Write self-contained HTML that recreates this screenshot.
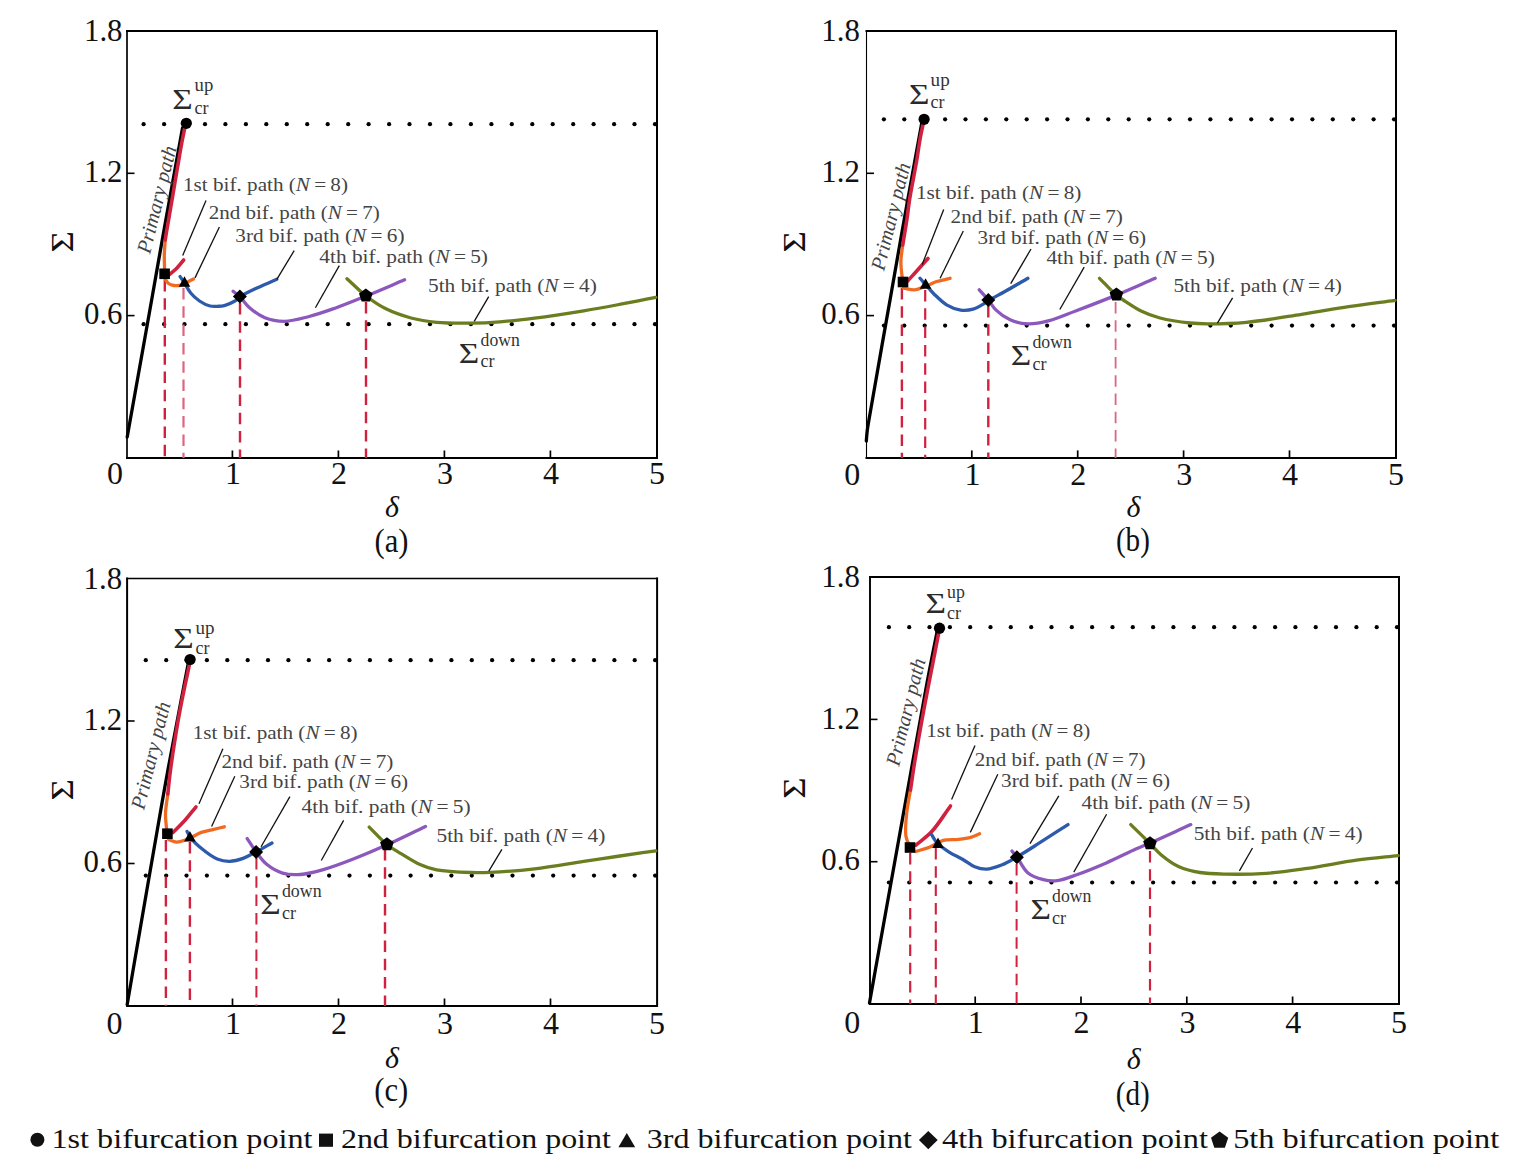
<!DOCTYPE html><html><head><meta charset="utf-8"><style>html,body{margin:0;padding:0;background:#fff;overflow:hidden}svg{display:block;font-family:"Liberation Serif",serif}</style></head><body>
<svg width="1527" height="1171" viewBox="0 0 1527 1171">
<rect width="1527" height="1171" fill="#fff"/>
<g stroke="#000" stroke-linecap="square">
<line x1="127.0" y1="30.9" x2="127.0" y2="458.0" stroke-width="1.7"/>
<line x1="127.0" y1="30.9" x2="657.0" y2="30.9" stroke-width="2.0"/>
<line x1="657.0" y1="30.9" x2="657.0" y2="458.0" stroke-width="2.0"/>
<line x1="127.0" y1="458.0" x2="657.0" y2="458.0" stroke-width="2.0"/>
</g>
<line x1="232.4" y1="458.0" x2="232.4" y2="450.5" stroke="#000" stroke-width="1.7" />
<line x1="338.4" y1="458.0" x2="338.4" y2="450.5" stroke="#000" stroke-width="1.7" />
<line x1="444.4" y1="458.0" x2="444.4" y2="450.5" stroke="#000" stroke-width="1.7" />
<line x1="550.4" y1="458.0" x2="550.4" y2="450.5" stroke="#000" stroke-width="1.7" />
<line x1="127.0" y1="315.6" x2="134.5" y2="315.6" stroke="#000" stroke-width="1.6" />
<line x1="127.0" y1="173.3" x2="134.5" y2="173.3" stroke="#000" stroke-width="1.6" />
<text x="122.5" y="40.9" font-size="32.0" text-anchor="end" fill="#111" textLength="38.5" lengthAdjust="spacingAndGlyphs" class="tly">1.8</text>
<text x="122.5" y="182.3" font-size="32.0" text-anchor="end" fill="#111" textLength="38.5" lengthAdjust="spacingAndGlyphs" class="tly">1.2</text>
<text x="122.5" y="323.7" font-size="32.0" text-anchor="end" fill="#111" textLength="38.5" lengthAdjust="spacingAndGlyphs" class="tly">0.6</text>
<text x="115.0" y="484.2" font-size="32.0" text-anchor="middle" fill="#111" class="tlx">0</text>
<text x="233.0" y="484.2" font-size="32.0" text-anchor="middle" fill="#111" class="tlx">1</text>
<text x="339.0" y="484.2" font-size="32.0" text-anchor="middle" fill="#111" class="tlx">2</text>
<text x="445.0" y="484.2" font-size="32.0" text-anchor="middle" fill="#111" class="tlx">3</text>
<text x="551.0" y="484.2" font-size="32.0" text-anchor="middle" fill="#111" class="tlx">4</text>
<text x="657.0" y="484.2" font-size="32.0" text-anchor="middle" fill="#111" class="tlx">5</text>
<text class="dl" x="392.0" y="517.0" font-size="30" font-style="italic" text-anchor="middle" fill="#111">δ</text>
<text x="391.5" y="552.4" font-size="34.0" text-anchor="middle" fill="#111" textLength="34.0" lengthAdjust="spacingAndGlyphs" class="pn">(a)</text>
<text class="sa" x="0" y="0" font-size="32" text-anchor="middle" fill="#111" transform="translate(73.0 241.9) rotate(-90) scale(1.15 1)">Σ</text>
<g fill="#000"><circle cx="143.6" cy="124.2" r="2.1"/><circle cx="164.1" cy="124.2" r="2.1"/><circle cx="184.5" cy="124.2" r="2.1"/><circle cx="205.0" cy="124.2" r="2.1"/><circle cx="225.4" cy="124.2" r="2.1"/><circle cx="245.9" cy="124.2" r="2.1"/><circle cx="266.3" cy="124.2" r="2.1"/><circle cx="286.8" cy="124.2" r="2.1"/><circle cx="307.2" cy="124.2" r="2.1"/><circle cx="327.7" cy="124.2" r="2.1"/><circle cx="348.2" cy="124.2" r="2.1"/><circle cx="368.6" cy="124.2" r="2.1"/><circle cx="389.1" cy="124.2" r="2.1"/><circle cx="409.5" cy="124.2" r="2.1"/><circle cx="430.0" cy="124.2" r="2.1"/><circle cx="450.4" cy="124.2" r="2.1"/><circle cx="470.9" cy="124.2" r="2.1"/><circle cx="491.4" cy="124.2" r="2.1"/><circle cx="511.8" cy="124.2" r="2.1"/><circle cx="532.3" cy="124.2" r="2.1"/><circle cx="552.7" cy="124.2" r="2.1"/><circle cx="573.2" cy="124.2" r="2.1"/><circle cx="593.6" cy="124.2" r="2.1"/><circle cx="614.1" cy="124.2" r="2.1"/><circle cx="634.5" cy="124.2" r="2.1"/><circle cx="655.0" cy="124.2" r="2.1"/></g>
<g fill="#000"><circle cx="143.6" cy="324.2" r="2.1"/><circle cx="164.1" cy="324.2" r="2.1"/><circle cx="184.5" cy="324.2" r="2.1"/><circle cx="205.0" cy="324.2" r="2.1"/><circle cx="225.4" cy="324.2" r="2.1"/><circle cx="245.9" cy="324.2" r="2.1"/><circle cx="266.3" cy="324.2" r="2.1"/><circle cx="286.8" cy="324.2" r="2.1"/><circle cx="307.2" cy="324.2" r="2.1"/><circle cx="327.7" cy="324.2" r="2.1"/><circle cx="348.2" cy="324.2" r="2.1"/><circle cx="368.6" cy="324.2" r="2.1"/><circle cx="389.1" cy="324.2" r="2.1"/><circle cx="409.5" cy="324.2" r="2.1"/><circle cx="430.0" cy="324.2" r="2.1"/><circle cx="450.4" cy="324.2" r="2.1"/><circle cx="470.9" cy="324.2" r="2.1"/><circle cx="491.4" cy="324.2" r="2.1"/><circle cx="511.8" cy="324.2" r="2.1"/><circle cx="532.3" cy="324.2" r="2.1"/><circle cx="552.7" cy="324.2" r="2.1"/><circle cx="573.2" cy="324.2" r="2.1"/><circle cx="593.6" cy="324.2" r="2.1"/><circle cx="614.1" cy="324.2" r="2.1"/><circle cx="634.5" cy="324.2" r="2.1"/><circle cx="655.0" cy="324.2" r="2.1"/></g>
<line x1="164.8" y1="280.0" x2="164.8" y2="458.0" stroke="#d0213f" stroke-width="2.4" stroke-dasharray="11.5 6.8"/>
<line x1="183.5" y1="288.0" x2="183.5" y2="458.0" stroke="#dc6582" stroke-width="2.2" stroke-dasharray="11.5 6.8"/>
<line x1="240.0" y1="303.0" x2="240.0" y2="458.0" stroke="#d0213f" stroke-width="2.4" stroke-dasharray="11.5 6.8"/>
<line x1="366.0" y1="302.0" x2="366.0" y2="458.0" stroke="#d0213f" stroke-width="2.4" stroke-dasharray="11.5 6.8"/>
<path d="M127.2 437.0 C130.0 421.3 132.3 408.3 135.6 390.0 C140.1 364.4 146.9 326.9 152.0 298.0 C156.6 272.3 160.2 251.1 164.9 225.0 C170.3 195.0 176.6 160.3 182.5 128.0" fill="none" stroke="#000" stroke-width="3.3" stroke-linecap="round" stroke-linejoin="round"/>
<path d="M164.6 269.0 C164.5 264.3 164.2 259.7 164.3 255.0 C164.4 250.1 164.9 245.0 165.2 240.0" fill="none" stroke="#f06a22" stroke-width="3.3" stroke-linecap="round" stroke-linejoin="round"/>
<path d="M165.2 240.0 C166.0 235.0 166.7 230.6 167.7 225.0 C168.9 217.7 170.4 209.3 172.0 200.0 C174.0 188.2 176.8 171.0 178.8 160.0 C180.1 152.2 181.1 146.3 182.3 140.0 C183.4 134.4 184.5 129.3 185.6 124.0" fill="none" stroke="#d0213f" stroke-width="3.6" stroke-linecap="round" stroke-linejoin="round"/>
<path d="M169.0 275.0 C171.5 272.8 174.1 270.9 176.5 268.5 C179.0 265.9 181.3 262.8 183.7 260.0" fill="none" stroke="#d0213f" stroke-width="3.6" stroke-linecap="round" stroke-linejoin="round"/>
<path d="M165.0 279.0 C166.2 280.5 167.0 282.4 168.5 283.5 C170.0 284.6 172.0 285.2 174.0 285.5 C176.2 285.8 178.7 285.8 181.0 285.2 C183.4 284.6 185.8 282.9 188.0 281.8 C189.9 280.8 191.7 279.9 193.5 279.0" fill="none" stroke="#f06a22" stroke-width="3.3" stroke-linecap="round" stroke-linejoin="round"/>
<path d="M180.1 276.6 C181.6 278.7 182.9 280.6 184.5 283.0 C186.4 285.9 188.2 290.0 190.7 293.0 C193.2 296.0 196.3 298.8 199.5 301.0 C202.7 303.2 206.8 305.2 210.1 306.0 C212.7 306.6 215.1 306.4 217.5 306.3 C219.8 306.2 221.8 306.2 224.3 305.6 C227.5 304.8 232.1 302.7 234.9 301.0 C237.1 299.7 237.9 298.1 240.2 296.6 C243.8 294.2 249.7 291.4 255.2 288.8 C261.7 285.7 269.6 282.5 276.8 279.3" fill="none" stroke="#2e5aac" stroke-width="3.3" stroke-linecap="round" stroke-linejoin="round"/>
<path d="M233.1 291.3 C235.5 293.2 237.8 294.7 240.2 297.0 C243.1 299.8 245.4 304.0 249.0 307.2 C253.3 311.0 259.1 315.4 264.9 317.8 C270.8 320.2 277.5 321.3 284.4 321.3 C292.2 321.2 300.8 318.6 309.1 316.5 C317.8 314.3 326.5 311.2 335.6 308.0 C345.4 304.5 355.1 300.5 365.7 296.2 C377.9 291.3 391.6 285.3 404.6 279.8" fill="none" stroke="#8c58bd" stroke-width="3.3" stroke-linecap="round" stroke-linejoin="round"/>
<path d="M347.0 278.7 C353.3 284.4 359.3 290.7 365.8 295.8 C372.1 300.7 378.2 305.0 385.4 308.6 C393.2 312.5 402.4 315.7 411.0 318.0 C419.4 320.2 427.4 321.4 436.6 322.3 C447.1 323.3 459.9 323.2 470.8 323.1 C480.9 323.0 489.9 322.6 500.0 321.8 C511.1 321.0 522.1 319.7 534.6 318.1 C549.6 316.2 569.0 313.2 583.7 310.8 C595.7 308.8 605.1 307.1 616.5 305.0 C629.0 302.7 642.7 299.9 655.8 297.3" fill="none" stroke="#6a7d1f" stroke-width="3.3" stroke-linecap="round" stroke-linejoin="round"/>
<line x1="182.7" y1="255.4" x2="206.0" y2="200.4" stroke="#111" stroke-width="1.3" />
<line x1="195.0" y1="277.9" x2="219.4" y2="227.0" stroke="#111" stroke-width="1.3" />
<line x1="276.8" y1="279.3" x2="294.2" y2="250.6" stroke="#111" stroke-width="1.3" />
<line x1="315.4" y1="307.7" x2="339.3" y2="265.6" stroke="#111" stroke-width="1.3" />
<line x1="474.2" y1="321.4" x2="488.7" y2="296.6" stroke="#111" stroke-width="1.3" />
<circle cx="186.3" cy="123.3" r="5.6" fill="#000"/>
<rect x="159.3" y="268.5" width="10.6" height="10.6" fill="#000"/>
<polygon points="184.5,276.3 178.7,286.7 190.3,286.7" fill="#000"/>
<polygon points="239.9,289.5 246.9,296.5 239.9,303.5 232.9,296.5" fill="#000"/>
<polygon points="365.8,288.6 372.6,293.6 370.0,301.6 361.6,301.6 359.0,293.6" fill="#000"/>
<text class="ann" x="183.0" y="191.0" font-size="19.5" fill="#444444" textLength="165.0" lengthAdjust="spacingAndGlyphs">1st bif. path (<tspan font-style="italic">N</tspan> = 8)</text>
<text class="ann" x="208.7" y="218.5" font-size="19.5" fill="#444444" textLength="171.0" lengthAdjust="spacingAndGlyphs">2nd bif. path (<tspan font-style="italic">N</tspan> = 7)</text>
<text class="ann" x="235.3" y="241.5" font-size="19.5" fill="#444444" textLength="169.2" lengthAdjust="spacingAndGlyphs">3rd bif. path (<tspan font-style="italic">N</tspan> = 6)</text>
<text class="ann" x="319.3" y="262.5" font-size="19.5" fill="#444444" textLength="168.7" lengthAdjust="spacingAndGlyphs">4th bif. path (<tspan font-style="italic">N</tspan> = 5)</text>
<text class="ann" x="428.0" y="291.9" font-size="19.5" fill="#444444" textLength="168.9" lengthAdjust="spacingAndGlyphs">5th bif. path (<tspan font-style="italic">N</tspan> = 4)</text>
<text x="150.0" y="254.5" font-size="20.5" font-style="italic" fill="#444444" textLength="110.0" lengthAdjust="spacingAndGlyphs" class="prim" transform="rotate(-76.0 150.0 254.5)">Primary path</text>
<text class="sig" x="172.3" y="108.9" font-size="29.5" fill="#2a2a2a" textLength="20.5" lengthAdjust="spacingAndGlyphs">Σ</text>
<text class="sup" x="194.6" y="90.5" font-size="19" fill="#333" textLength="18.7" lengthAdjust="spacingAndGlyphs">up</text>
<text class="sub" x="194.6" y="113.5" font-size="19" fill="#333" textLength="14.0" lengthAdjust="spacingAndGlyphs">cr</text>
<text class="sig" x="458.8" y="363.1" font-size="29.5" fill="#2a2a2a" textLength="20.5" lengthAdjust="spacingAndGlyphs">Σ</text>
<text class="sup" x="480.6" y="346.0" font-size="19" fill="#333" textLength="39.3" lengthAdjust="spacingAndGlyphs">down</text>
<text class="sub" x="480.6" y="367.2" font-size="19" fill="#333" textLength="14.0" lengthAdjust="spacingAndGlyphs">cr</text>
<g stroke="#000" stroke-linecap="square">
<line x1="866.5" y1="31.0" x2="866.5" y2="457.9" stroke-width="1.1"/>
<line x1="866.5" y1="31.0" x2="1396.0" y2="31.0" stroke-width="2.0"/>
<line x1="1396.0" y1="31.0" x2="1396.0" y2="457.9" stroke-width="2.0"/>
<line x1="866.5" y1="457.9" x2="1396.0" y2="457.9" stroke-width="2.0"/>
</g>
<line x1="971.8" y1="457.9" x2="971.8" y2="450.4" stroke="#000" stroke-width="1.7" />
<line x1="1077.7" y1="457.9" x2="1077.7" y2="450.4" stroke="#000" stroke-width="1.7" />
<line x1="1183.6" y1="457.9" x2="1183.6" y2="450.4" stroke="#000" stroke-width="1.7" />
<line x1="1289.5" y1="457.9" x2="1289.5" y2="450.4" stroke="#000" stroke-width="1.7" />
<line x1="866.5" y1="315.6" x2="874.0" y2="315.6" stroke="#000" stroke-width="1.6" />
<line x1="866.5" y1="173.3" x2="874.0" y2="173.3" stroke="#000" stroke-width="1.6" />
<text x="859.8" y="41.0" font-size="32.0" text-anchor="end" fill="#111" textLength="38.5" lengthAdjust="spacingAndGlyphs" class="tly">1.8</text>
<text x="859.8" y="182.4" font-size="32.0" text-anchor="end" fill="#111" textLength="38.5" lengthAdjust="spacingAndGlyphs" class="tly">1.2</text>
<text x="859.8" y="323.7" font-size="32.0" text-anchor="end" fill="#111" textLength="38.5" lengthAdjust="spacingAndGlyphs" class="tly">0.6</text>
<text x="852.2" y="484.5" font-size="32.0" text-anchor="middle" fill="#111" class="tlx">0</text>
<text x="972.4" y="484.5" font-size="32.0" text-anchor="middle" fill="#111" class="tlx">1</text>
<text x="1078.3" y="484.5" font-size="32.0" text-anchor="middle" fill="#111" class="tlx">2</text>
<text x="1184.2" y="484.5" font-size="32.0" text-anchor="middle" fill="#111" class="tlx">3</text>
<text x="1290.1" y="484.5" font-size="32.0" text-anchor="middle" fill="#111" class="tlx">4</text>
<text x="1396.0" y="484.5" font-size="32.0" text-anchor="middle" fill="#111" class="tlx">5</text>
<text class="dl" x="1133.5" y="517.0" font-size="30" font-style="italic" text-anchor="middle" fill="#111">δ</text>
<text x="1132.9" y="550.5" font-size="34.0" text-anchor="middle" fill="#111" textLength="34.0" lengthAdjust="spacingAndGlyphs" class="pn">(b)</text>
<text class="sa" x="0" y="0" font-size="32" text-anchor="middle" fill="#111" transform="translate(805.0 241.9) rotate(-90) scale(1.15 1)">Σ</text>
<g fill="#000"><circle cx="883.9" cy="119.3" r="2.1"/><circle cx="904.3" cy="119.3" r="2.1"/><circle cx="924.7" cy="119.3" r="2.1"/><circle cx="945.1" cy="119.3" r="2.1"/><circle cx="965.5" cy="119.3" r="2.1"/><circle cx="985.9" cy="119.3" r="2.1"/><circle cx="1006.3" cy="119.3" r="2.1"/><circle cx="1026.7" cy="119.3" r="2.1"/><circle cx="1047.1" cy="119.3" r="2.1"/><circle cx="1067.5" cy="119.3" r="2.1"/><circle cx="1087.9" cy="119.3" r="2.1"/><circle cx="1108.3" cy="119.3" r="2.1"/><circle cx="1128.7" cy="119.3" r="2.1"/><circle cx="1149.2" cy="119.3" r="2.1"/><circle cx="1169.6" cy="119.3" r="2.1"/><circle cx="1190.0" cy="119.3" r="2.1"/><circle cx="1210.4" cy="119.3" r="2.1"/><circle cx="1230.8" cy="119.3" r="2.1"/><circle cx="1251.2" cy="119.3" r="2.1"/><circle cx="1271.6" cy="119.3" r="2.1"/><circle cx="1292.0" cy="119.3" r="2.1"/><circle cx="1312.4" cy="119.3" r="2.1"/><circle cx="1332.8" cy="119.3" r="2.1"/><circle cx="1353.2" cy="119.3" r="2.1"/><circle cx="1373.6" cy="119.3" r="2.1"/><circle cx="1394.0" cy="119.3" r="2.1"/></g>
<g fill="#000"><circle cx="883.9" cy="325.6" r="2.1"/><circle cx="904.3" cy="325.6" r="2.1"/><circle cx="924.7" cy="325.6" r="2.1"/><circle cx="945.1" cy="325.6" r="2.1"/><circle cx="965.5" cy="325.6" r="2.1"/><circle cx="985.9" cy="325.6" r="2.1"/><circle cx="1006.3" cy="325.6" r="2.1"/><circle cx="1026.7" cy="325.6" r="2.1"/><circle cx="1047.1" cy="325.6" r="2.1"/><circle cx="1067.5" cy="325.6" r="2.1"/><circle cx="1087.9" cy="325.6" r="2.1"/><circle cx="1108.3" cy="325.6" r="2.1"/><circle cx="1128.7" cy="325.6" r="2.1"/><circle cx="1149.2" cy="325.6" r="2.1"/><circle cx="1169.6" cy="325.6" r="2.1"/><circle cx="1190.0" cy="325.6" r="2.1"/><circle cx="1210.4" cy="325.6" r="2.1"/><circle cx="1230.8" cy="325.6" r="2.1"/><circle cx="1251.2" cy="325.6" r="2.1"/><circle cx="1271.6" cy="325.6" r="2.1"/><circle cx="1292.0" cy="325.6" r="2.1"/><circle cx="1312.4" cy="325.6" r="2.1"/><circle cx="1332.8" cy="325.6" r="2.1"/><circle cx="1353.2" cy="325.6" r="2.1"/><circle cx="1373.6" cy="325.6" r="2.1"/><circle cx="1394.0" cy="325.6" r="2.1"/></g>
<line x1="901.9" y1="288.0" x2="901.9" y2="457.9" stroke="#d0213f" stroke-width="2.4" stroke-dasharray="11.5 6.8"/>
<line x1="925.2" y1="290.0" x2="925.2" y2="457.9" stroke="#d0213f" stroke-width="2.2" stroke-dasharray="11.5 6.8"/>
<line x1="988.3" y1="306.0" x2="988.3" y2="457.9" stroke="#d0213f" stroke-width="2.4" stroke-dasharray="11.5 6.8"/>
<line x1="1115.6" y1="302.0" x2="1115.6" y2="457.9" stroke="#dc6582" stroke-width="1.8" stroke-dasharray="11.5 6.8"/>
<path d="M866.3 441.0 C866.6 437.7 866.8 434.5 867.2 431.0 C867.7 427.1 868.1 424.8 869.2 418.5 C872.6 398.1 885.0 328.4 891.8 290.0 C897.3 258.7 901.7 233.3 906.8 205.0 C911.9 176.7 917.1 148.3 922.3 120.0" fill="none" stroke="#000" stroke-width="3.3" stroke-linecap="round" stroke-linejoin="round"/>
<path d="M902.6 281.0 C902.0 274.7 900.8 268.2 900.9 262.0 C900.9 256.2 902.1 250.7 902.7 245.0" fill="none" stroke="#f06a22" stroke-width="3.3" stroke-linecap="round" stroke-linejoin="round"/>
<path d="M902.7 245.0 C904.1 236.7 905.6 227.9 906.8 220.0 C907.9 213.0 908.3 207.8 909.5 200.0 C911.3 188.9 914.9 171.1 916.8 160.0 C918.1 152.2 918.7 146.7 919.9 140.0 C921.1 133.1 922.7 126.2 924.1 119.3" fill="none" stroke="#d0213f" stroke-width="3.6" stroke-linecap="round" stroke-linejoin="round"/>
<path d="M907.7 281.0 C910.6 277.7 913.4 274.7 916.5 271.2 C920.1 267.2 924.2 262.7 928.0 258.5" fill="none" stroke="#d0213f" stroke-width="3.6" stroke-linecap="round" stroke-linejoin="round"/>
<path d="M903.3 288.0 C907.1 288.6 911.1 290.1 914.8 289.8 C918.4 289.5 921.9 287.5 925.4 286.2 C929.0 284.9 932.2 283.1 936.0 281.8 C940.3 280.4 945.4 279.5 950.1 278.3" fill="none" stroke="#f06a22" stroke-width="3.3" stroke-linecap="round" stroke-linejoin="round"/>
<path d="M920.0 278.3 C921.8 280.4 923.4 282.2 925.4 284.5 C928.0 287.4 930.9 291.0 934.2 294.2 C937.9 297.8 942.1 302.1 946.6 304.8 C950.9 307.4 956.1 309.4 960.7 310.1 C964.9 310.7 969.2 310.3 973.1 309.2 C976.9 308.2 980.9 305.6 983.7 303.9 C985.7 302.7 986.5 301.8 988.7 300.4 C992.5 298.0 999.0 294.8 1004.9 291.5 C1011.9 287.6 1020.2 282.7 1027.9 278.3" fill="none" stroke="#2e5aac" stroke-width="3.3" stroke-linecap="round" stroke-linejoin="round"/>
<path d="M979.3 289.8 C982.4 293.3 985.8 296.9 988.7 300.4 C991.4 303.7 992.9 307.1 996.1 310.1 C999.8 313.7 1005.0 317.5 1010.2 319.8 C1015.6 322.2 1021.7 323.7 1027.9 323.9 C1034.6 324.2 1041.7 322.6 1049.1 320.7 C1057.5 318.5 1065.8 314.7 1075.6 311.0 C1087.7 306.4 1102.9 300.6 1116.3 295.1 C1129.5 289.7 1142.2 283.9 1155.2 278.3" fill="none" stroke="#8c58bd" stroke-width="3.3" stroke-linecap="round" stroke-linejoin="round"/>
<path d="M1099.5 278.3 C1105.1 283.9 1111.4 291.0 1116.3 295.1 C1119.6 297.9 1121.8 299.1 1125.2 301.3 C1129.7 304.2 1135.4 308.3 1141.1 311.0 C1147.0 313.9 1152.9 316.1 1160.0 318.0 C1168.8 320.3 1181.5 322.1 1190.2 323.0 C1196.7 323.7 1200.4 323.8 1207.2 323.8 C1217.6 323.8 1232.3 323.6 1246.4 322.3 C1263.2 320.8 1283.9 317.1 1301.5 314.4 C1317.8 311.9 1332.9 309.0 1348.6 306.6 C1364.1 304.3 1379.5 302.4 1395.0 300.3" fill="none" stroke="#6a7d1f" stroke-width="3.3" stroke-linecap="round" stroke-linejoin="round"/>
<line x1="922.2" y1="264.5" x2="943.7" y2="209.5" stroke="#111" stroke-width="1.3" />
<line x1="940.1" y1="278.2" x2="963.3" y2="231.0" stroke="#111" stroke-width="1.3" />
<line x1="1010.7" y1="283.7" x2="1031.0" y2="249.0" stroke="#111" stroke-width="1.3" />
<line x1="1059.8" y1="309.5" x2="1084.2" y2="267.1" stroke="#111" stroke-width="1.3" />
<line x1="1217.4" y1="323.1" x2="1232.6" y2="297.9" stroke="#111" stroke-width="1.3" />
<circle cx="924.1" cy="119.3" r="5.6" fill="#000"/>
<rect x="897.7" y="276.7" width="10.6" height="10.6" fill="#000"/>
<polygon points="925.6,278.3 919.8,288.7 931.4,288.7" fill="#000"/>
<polygon points="988.3,293.1 995.3,300.1 988.3,307.1 981.3,300.1" fill="#000"/>
<polygon points="1116.4,287.6 1123.2,292.6 1120.6,300.6 1112.2,300.6 1109.6,292.6" fill="#000"/>
<text class="ann" x="915.9" y="198.6" font-size="19.5" fill="#444444" textLength="165.5" lengthAdjust="spacingAndGlyphs">1st bif. path (<tspan font-style="italic">N</tspan> = 8)</text>
<text class="ann" x="950.6" y="222.6" font-size="19.5" fill="#444444" textLength="172.2" lengthAdjust="spacingAndGlyphs">2nd bif. path (<tspan font-style="italic">N</tspan> = 7)</text>
<text class="ann" x="977.6" y="243.9" font-size="19.5" fill="#444444" textLength="168.6" lengthAdjust="spacingAndGlyphs">3rd bif. path (<tspan font-style="italic">N</tspan> = 6)</text>
<text class="ann" x="1046.4" y="264.2" font-size="19.5" fill="#444444" textLength="168.4" lengthAdjust="spacingAndGlyphs">4th bif. path (<tspan font-style="italic">N</tspan> = 5)</text>
<text class="ann" x="1173.4" y="291.5" font-size="19.5" fill="#444444" textLength="168.6" lengthAdjust="spacingAndGlyphs">5th bif. path (<tspan font-style="italic">N</tspan> = 4)</text>
<text x="884.0" y="271.5" font-size="20.5" font-style="italic" fill="#444444" textLength="110.0" lengthAdjust="spacingAndGlyphs" class="prim" transform="rotate(-76.0 884.0 271.5)">Primary path</text>
<text class="sig" x="909.0" y="103.8" font-size="29.5" fill="#2a2a2a" textLength="20.5" lengthAdjust="spacingAndGlyphs">Σ</text>
<text class="sup" x="930.6" y="85.5" font-size="19" fill="#333" textLength="19.1" lengthAdjust="spacingAndGlyphs">up</text>
<text class="sub" x="930.6" y="107.8" font-size="19" fill="#333" textLength="14.0" lengthAdjust="spacingAndGlyphs">cr</text>
<text class="sig" x="1010.7" y="365.3" font-size="29.5" fill="#2a2a2a" textLength="20.5" lengthAdjust="spacingAndGlyphs">Σ</text>
<text class="sup" x="1032.4" y="347.7" font-size="19" fill="#333" textLength="39.5" lengthAdjust="spacingAndGlyphs">down</text>
<text class="sub" x="1032.4" y="369.5" font-size="19" fill="#333" textLength="14.0" lengthAdjust="spacingAndGlyphs">cr</text>
<g stroke="#000" stroke-linecap="square">
<line x1="127.1" y1="578.5" x2="127.1" y2="1006.0" stroke-width="2.0"/>
<line x1="127.1" y1="578.5" x2="657.1" y2="578.5" stroke-width="1.4"/>
<line x1="657.1" y1="578.5" x2="657.1" y2="1006.0" stroke-width="2.0"/>
<line x1="127.1" y1="1006.0" x2="657.1" y2="1006.0" stroke-width="1.8"/>
</g>
<line x1="232.5" y1="1006.0" x2="232.5" y2="998.5" stroke="#000" stroke-width="1.7" />
<line x1="338.5" y1="1006.0" x2="338.5" y2="998.5" stroke="#000" stroke-width="1.7" />
<line x1="444.5" y1="1006.0" x2="444.5" y2="998.5" stroke="#000" stroke-width="1.7" />
<line x1="550.5" y1="1006.0" x2="550.5" y2="998.5" stroke="#000" stroke-width="1.7" />
<line x1="127.1" y1="863.5" x2="134.6" y2="863.5" stroke="#000" stroke-width="1.6" />
<line x1="127.1" y1="721.0" x2="134.6" y2="721.0" stroke="#000" stroke-width="1.6" />
<text x="122.1" y="588.5" font-size="32.0" text-anchor="end" fill="#111" textLength="38.5" lengthAdjust="spacingAndGlyphs" class="tly">1.8</text>
<text x="122.1" y="730.0" font-size="32.0" text-anchor="end" fill="#111" textLength="38.5" lengthAdjust="spacingAndGlyphs" class="tly">1.2</text>
<text x="122.1" y="871.6" font-size="32.0" text-anchor="end" fill="#111" textLength="38.5" lengthAdjust="spacingAndGlyphs" class="tly">0.6</text>
<text x="114.5" y="1034.2" font-size="32.0" text-anchor="middle" fill="#111" class="tlx">0</text>
<text x="233.1" y="1034.2" font-size="32.0" text-anchor="middle" fill="#111" class="tlx">1</text>
<text x="339.1" y="1034.2" font-size="32.0" text-anchor="middle" fill="#111" class="tlx">2</text>
<text x="445.1" y="1034.2" font-size="32.0" text-anchor="middle" fill="#111" class="tlx">3</text>
<text x="551.1" y="1034.2" font-size="32.0" text-anchor="middle" fill="#111" class="tlx">4</text>
<text x="657.1" y="1034.2" font-size="32.0" text-anchor="middle" fill="#111" class="tlx">5</text>
<text class="dl" x="392.0" y="1067.7" font-size="30" font-style="italic" text-anchor="middle" fill="#111">δ</text>
<text x="391.3" y="1100.6" font-size="34.0" text-anchor="middle" fill="#111" textLength="34.0" lengthAdjust="spacingAndGlyphs" class="pn">(c)</text>
<text class="sa" x="0" y="0" font-size="32" text-anchor="middle" fill="#111" transform="translate(73.0 789.8) rotate(-90) scale(1.15 1)">Σ</text>
<g fill="#000"><circle cx="145.8" cy="660.2" r="2.1"/><circle cx="166.2" cy="660.2" r="2.1"/><circle cx="186.5" cy="660.2" r="2.1"/><circle cx="206.9" cy="660.2" r="2.1"/><circle cx="227.3" cy="660.2" r="2.1"/><circle cx="247.7" cy="660.2" r="2.1"/><circle cx="268.0" cy="660.2" r="2.1"/><circle cx="288.4" cy="660.2" r="2.1"/><circle cx="308.8" cy="660.2" r="2.1"/><circle cx="329.1" cy="660.2" r="2.1"/><circle cx="349.5" cy="660.2" r="2.1"/><circle cx="369.9" cy="660.2" r="2.1"/><circle cx="390.3" cy="660.2" r="2.1"/><circle cx="410.6" cy="660.2" r="2.1"/><circle cx="431.0" cy="660.2" r="2.1"/><circle cx="451.4" cy="660.2" r="2.1"/><circle cx="471.8" cy="660.2" r="2.1"/><circle cx="492.1" cy="660.2" r="2.1"/><circle cx="512.5" cy="660.2" r="2.1"/><circle cx="532.9" cy="660.2" r="2.1"/><circle cx="553.2" cy="660.2" r="2.1"/><circle cx="573.6" cy="660.2" r="2.1"/><circle cx="594.0" cy="660.2" r="2.1"/><circle cx="614.4" cy="660.2" r="2.1"/><circle cx="634.7" cy="660.2" r="2.1"/><circle cx="655.1" cy="660.2" r="2.1"/></g>
<g fill="#000"><circle cx="145.8" cy="875.6" r="2.1"/><circle cx="166.2" cy="875.6" r="2.1"/><circle cx="186.5" cy="875.6" r="2.1"/><circle cx="206.9" cy="875.6" r="2.1"/><circle cx="227.3" cy="875.6" r="2.1"/><circle cx="247.7" cy="875.6" r="2.1"/><circle cx="268.0" cy="875.6" r="2.1"/><circle cx="288.4" cy="875.6" r="2.1"/><circle cx="308.8" cy="875.6" r="2.1"/><circle cx="329.1" cy="875.6" r="2.1"/><circle cx="349.5" cy="875.6" r="2.1"/><circle cx="369.9" cy="875.6" r="2.1"/><circle cx="390.3" cy="875.6" r="2.1"/><circle cx="410.6" cy="875.6" r="2.1"/><circle cx="431.0" cy="875.6" r="2.1"/><circle cx="451.4" cy="875.6" r="2.1"/><circle cx="471.8" cy="875.6" r="2.1"/><circle cx="492.1" cy="875.6" r="2.1"/><circle cx="512.5" cy="875.6" r="2.1"/><circle cx="532.9" cy="875.6" r="2.1"/><circle cx="553.2" cy="875.6" r="2.1"/><circle cx="573.6" cy="875.6" r="2.1"/><circle cx="594.0" cy="875.6" r="2.1"/><circle cx="614.4" cy="875.6" r="2.1"/><circle cx="634.7" cy="875.6" r="2.1"/><circle cx="655.1" cy="875.6" r="2.1"/></g>
<line x1="165.9" y1="840.0" x2="165.9" y2="1006.0" stroke="#d0213f" stroke-width="2.4" stroke-dasharray="11.5 6.8"/>
<line x1="189.9" y1="842.0" x2="189.9" y2="1006.0" stroke="#d0213f" stroke-width="2.4" stroke-dasharray="11.5 6.8"/>
<line x1="256.4" y1="858.0" x2="256.4" y2="1006.0" stroke="#d0213f" stroke-width="2.0" stroke-dasharray="11.5 6.8"/>
<line x1="385.0" y1="849.0" x2="385.0" y2="1006.0" stroke="#d0213f" stroke-width="2.4" stroke-dasharray="11.5 6.8"/>
<path d="M127.2 1004.5 C134.3 963.0 141.6 920.2 148.6 880.0 C155.2 842.2 161.2 806.5 167.9 770.0 C174.5 733.8 181.6 698.0 188.5 662.0" fill="none" stroke="#000" stroke-width="3.3" stroke-linecap="round" stroke-linejoin="round"/>
<path d="M167.0 833.0 C166.5 826.7 165.4 820.4 165.5 814.0 C165.6 807.4 167.0 800.7 167.8 794.0" fill="none" stroke="#f06a22" stroke-width="3.3" stroke-linecap="round" stroke-linejoin="round"/>
<path d="M167.8 794.0 C168.7 786.0 169.2 779.4 170.5 770.0 C172.3 756.3 176.0 732.9 178.2 720.0 C179.7 711.8 180.5 707.7 182.0 700.0 C184.1 689.2 187.4 674.3 190.1 661.4" fill="none" stroke="#d0213f" stroke-width="3.6" stroke-linecap="round" stroke-linejoin="round"/>
<path d="M173.0 832.4 C176.5 828.9 180.0 825.7 183.6 821.8 C187.7 817.3 191.9 811.8 196.0 806.8" fill="none" stroke="#d0213f" stroke-width="3.6" stroke-linecap="round" stroke-linejoin="round"/>
<path d="M168.6 839.5 C171.2 840.4 173.6 842.1 176.5 842.2 C180.2 842.3 184.8 840.2 188.9 838.6 C193.1 837.0 197.2 833.9 201.3 832.4 C204.9 831.1 208.2 830.7 211.9 829.8 C215.9 828.8 220.2 827.8 224.3 826.8" fill="none" stroke="#f06a22" stroke-width="3.3" stroke-linecap="round" stroke-linejoin="round"/>
<path d="M187.1 831.5 C188.1 833.3 188.5 835.0 190.0 837.0 C192.4 840.3 197.0 844.8 201.3 848.3 C206.0 852.2 212.0 856.9 217.2 859.0 C221.4 860.7 225.3 861.4 229.6 861.3 C234.2 861.2 239.2 859.7 243.7 858.1 C248.1 856.5 251.7 854.2 256.1 851.9 C261.1 849.3 266.7 846.0 272.0 843.0" fill="none" stroke="#2e5aac" stroke-width="3.3" stroke-linecap="round" stroke-linejoin="round"/>
<path d="M247.2 838.6 C250.2 843.0 252.9 847.6 256.1 851.9 C259.4 856.2 262.4 860.8 266.7 864.3 C271.2 868.0 277.0 871.4 282.6 873.1 C288.2 874.8 294.0 874.9 300.3 874.5 C307.5 874.0 315.2 871.9 323.3 869.6 C332.7 866.9 343.1 863.0 353.3 859.0 C364.2 854.8 375.4 850.0 386.9 844.8 C399.4 839.2 412.6 832.5 425.5 826.4" fill="none" stroke="#8c58bd" stroke-width="3.3" stroke-linecap="round" stroke-linejoin="round"/>
<path d="M369.2 827.1 C375.1 832.9 381.1 839.9 386.9 844.5 C391.7 848.3 395.9 850.5 401.0 853.6 C406.8 857.1 413.7 861.7 420.0 864.5 C425.6 867.0 430.0 868.6 436.6 869.9 C445.9 871.7 461.0 872.2 470.8 872.5 C478.2 872.7 482.6 872.6 490.4 872.3 C502.2 871.8 519.5 870.5 534.6 868.8 C550.6 867.0 569.0 863.6 583.7 861.4 C595.7 859.6 605.1 858.2 616.5 856.5 C629.0 854.7 642.7 852.7 655.8 850.8" fill="none" stroke="#6a7d1f" stroke-width="3.3" stroke-linecap="round" stroke-linejoin="round"/>
<line x1="199.0" y1="803.8" x2="222.9" y2="748.8" stroke="#111" stroke-width="1.3" />
<line x1="211.6" y1="826.5" x2="234.8" y2="776.3" stroke="#111" stroke-width="1.3" />
<line x1="261.1" y1="846.8" x2="289.9" y2="796.6" stroke="#111" stroke-width="1.3" />
<line x1="321.3" y1="860.5" x2="343.6" y2="820.4" stroke="#111" stroke-width="1.3" />
<line x1="488.8" y1="871.2" x2="501.9" y2="849.4" stroke="#111" stroke-width="1.3" />
<circle cx="190.1" cy="659.5" r="5.6" fill="#000"/>
<rect x="162.1" y="828.4" width="10.6" height="10.6" fill="#000"/>
<polygon points="189.9,831.1 184.1,841.5 195.7,841.5" fill="#000"/>
<polygon points="256.1,844.9 263.1,851.9 256.1,858.9 249.1,851.9" fill="#000"/>
<polygon points="386.9,837.3 393.7,842.3 391.1,850.3 382.7,850.3 380.1,842.3" fill="#000"/>
<text class="ann" x="192.7" y="738.8" font-size="19.5" fill="#444444" textLength="164.8" lengthAdjust="spacingAndGlyphs">1st bif. path (<tspan font-style="italic">N</tspan> = 8)</text>
<text class="ann" x="221.4" y="767.7" font-size="19.5" fill="#444444" textLength="172.0" lengthAdjust="spacingAndGlyphs">2nd bif. path (<tspan font-style="italic">N</tspan> = 7)</text>
<text class="ann" x="239.3" y="787.6" font-size="19.5" fill="#444444" textLength="168.9" lengthAdjust="spacingAndGlyphs">3rd bif. path (<tspan font-style="italic">N</tspan> = 6)</text>
<text class="ann" x="301.6" y="812.5" font-size="19.5" fill="#444444" textLength="169.1" lengthAdjust="spacingAndGlyphs">4th bif. path (<tspan font-style="italic">N</tspan> = 5)</text>
<text class="ann" x="436.5" y="841.5" font-size="19.5" fill="#444444" textLength="168.9" lengthAdjust="spacingAndGlyphs">5th bif. path (<tspan font-style="italic">N</tspan> = 4)</text>
<text x="144.0" y="810.5" font-size="20.5" font-style="italic" fill="#444444" textLength="110.0" lengthAdjust="spacingAndGlyphs" class="prim" transform="rotate(-76.0 144.0 810.5)">Primary path</text>
<text class="sig" x="173.3" y="647.8" font-size="29.5" fill="#2a2a2a" textLength="20.5" lengthAdjust="spacingAndGlyphs">Σ</text>
<text class="sup" x="195.5" y="634.0" font-size="19" fill="#333" textLength="19.0" lengthAdjust="spacingAndGlyphs">up</text>
<text class="sub" x="195.5" y="654.0" font-size="19" fill="#333" textLength="14.0" lengthAdjust="spacingAndGlyphs">cr</text>
<text class="sig" x="260.2" y="913.5" font-size="29.5" fill="#2a2a2a" textLength="20.5" lengthAdjust="spacingAndGlyphs">Σ</text>
<text class="sup" x="281.9" y="896.5" font-size="19" fill="#333" textLength="39.7" lengthAdjust="spacingAndGlyphs">down</text>
<text class="sub" x="281.9" y="918.5" font-size="19" fill="#333" textLength="14.0" lengthAdjust="spacingAndGlyphs">cr</text>
<g stroke="#000" stroke-linecap="square">
<line x1="870.0" y1="577.1" x2="870.0" y2="1004.0" stroke-width="1.9"/>
<line x1="870.0" y1="577.1" x2="1399.0" y2="577.1" stroke-width="2.0"/>
<line x1="1399.0" y1="577.1" x2="1399.0" y2="1004.0" stroke-width="2.0"/>
<line x1="870.0" y1="1004.0" x2="1399.0" y2="1004.0" stroke-width="2.0"/>
</g>
<line x1="975.2" y1="1004.0" x2="975.2" y2="996.5" stroke="#000" stroke-width="1.7" />
<line x1="1081.0" y1="1004.0" x2="1081.0" y2="996.5" stroke="#000" stroke-width="1.7" />
<line x1="1186.8" y1="1004.0" x2="1186.8" y2="996.5" stroke="#000" stroke-width="1.7" />
<line x1="1292.6" y1="1004.0" x2="1292.6" y2="996.5" stroke="#000" stroke-width="1.7" />
<line x1="870.0" y1="861.7" x2="877.5" y2="861.7" stroke="#000" stroke-width="1.6" />
<line x1="870.0" y1="719.4" x2="877.5" y2="719.4" stroke="#000" stroke-width="1.6" />
<text x="859.8" y="587.1" font-size="32.0" text-anchor="end" fill="#111" textLength="38.5" lengthAdjust="spacingAndGlyphs" class="tly">1.8</text>
<text x="859.8" y="728.5" font-size="32.0" text-anchor="end" fill="#111" textLength="38.5" lengthAdjust="spacingAndGlyphs" class="tly">1.2</text>
<text x="859.8" y="869.8" font-size="32.0" text-anchor="end" fill="#111" textLength="38.5" lengthAdjust="spacingAndGlyphs" class="tly">0.6</text>
<text x="852.2" y="1033.3" font-size="32.0" text-anchor="middle" fill="#111" class="tlx">0</text>
<text x="975.8" y="1033.3" font-size="32.0" text-anchor="middle" fill="#111" class="tlx">1</text>
<text x="1081.6" y="1033.3" font-size="32.0" text-anchor="middle" fill="#111" class="tlx">2</text>
<text x="1187.4" y="1033.3" font-size="32.0" text-anchor="middle" fill="#111" class="tlx">3</text>
<text x="1293.2" y="1033.3" font-size="32.0" text-anchor="middle" fill="#111" class="tlx">4</text>
<text x="1399.0" y="1033.3" font-size="32.0" text-anchor="middle" fill="#111" class="tlx">5</text>
<text class="dl" x="1133.8" y="1068.5" font-size="30" font-style="italic" text-anchor="middle" fill="#111">δ</text>
<text x="1132.8" y="1105.3" font-size="34.0" text-anchor="middle" fill="#111" textLength="34.0" lengthAdjust="spacingAndGlyphs" class="pn">(d)</text>
<text class="sa" x="0" y="0" font-size="32" text-anchor="middle" fill="#111" transform="translate(805.0 788.0) rotate(-90) scale(1.15 1)">Σ</text>
<g fill="#000"><circle cx="888.9" cy="627.2" r="2.1"/><circle cx="909.2" cy="627.2" r="2.1"/><circle cx="929.5" cy="627.2" r="2.1"/><circle cx="949.9" cy="627.2" r="2.1"/><circle cx="970.2" cy="627.2" r="2.1"/><circle cx="990.5" cy="627.2" r="2.1"/><circle cx="1010.8" cy="627.2" r="2.1"/><circle cx="1031.2" cy="627.2" r="2.1"/><circle cx="1051.5" cy="627.2" r="2.1"/><circle cx="1071.8" cy="627.2" r="2.1"/><circle cx="1092.1" cy="627.2" r="2.1"/><circle cx="1112.5" cy="627.2" r="2.1"/><circle cx="1132.8" cy="627.2" r="2.1"/><circle cx="1153.1" cy="627.2" r="2.1"/><circle cx="1173.4" cy="627.2" r="2.1"/><circle cx="1193.8" cy="627.2" r="2.1"/><circle cx="1214.1" cy="627.2" r="2.1"/><circle cx="1234.4" cy="627.2" r="2.1"/><circle cx="1254.7" cy="627.2" r="2.1"/><circle cx="1275.1" cy="627.2" r="2.1"/><circle cx="1295.4" cy="627.2" r="2.1"/><circle cx="1315.7" cy="627.2" r="2.1"/><circle cx="1336.0" cy="627.2" r="2.1"/><circle cx="1356.4" cy="627.2" r="2.1"/><circle cx="1376.7" cy="627.2" r="2.1"/><circle cx="1397.0" cy="627.2" r="2.1"/></g>
<g fill="#000"><circle cx="888.9" cy="882.5" r="2.1"/><circle cx="909.2" cy="882.5" r="2.1"/><circle cx="929.5" cy="882.5" r="2.1"/><circle cx="949.9" cy="882.5" r="2.1"/><circle cx="970.2" cy="882.5" r="2.1"/><circle cx="990.5" cy="882.5" r="2.1"/><circle cx="1010.8" cy="882.5" r="2.1"/><circle cx="1031.2" cy="882.5" r="2.1"/><circle cx="1051.5" cy="882.5" r="2.1"/><circle cx="1071.8" cy="882.5" r="2.1"/><circle cx="1092.1" cy="882.5" r="2.1"/><circle cx="1112.5" cy="882.5" r="2.1"/><circle cx="1132.8" cy="882.5" r="2.1"/><circle cx="1153.1" cy="882.5" r="2.1"/><circle cx="1173.4" cy="882.5" r="2.1"/><circle cx="1193.8" cy="882.5" r="2.1"/><circle cx="1214.1" cy="882.5" r="2.1"/><circle cx="1234.4" cy="882.5" r="2.1"/><circle cx="1254.7" cy="882.5" r="2.1"/><circle cx="1275.1" cy="882.5" r="2.1"/><circle cx="1295.4" cy="882.5" r="2.1"/><circle cx="1315.7" cy="882.5" r="2.1"/><circle cx="1336.0" cy="882.5" r="2.1"/><circle cx="1356.4" cy="882.5" r="2.1"/><circle cx="1376.7" cy="882.5" r="2.1"/><circle cx="1397.0" cy="882.5" r="2.1"/></g>
<line x1="910.2" y1="853.0" x2="910.2" y2="1004.0" stroke="#d0213f" stroke-width="2.2" stroke-dasharray="11.5 6.8"/>
<line x1="935.8" y1="848.0" x2="935.8" y2="1004.0" stroke="#d0213f" stroke-width="2.1" stroke-dasharray="11.5 6.8"/>
<line x1="1016.6" y1="864.0" x2="1016.6" y2="1004.0" stroke="#d0213f" stroke-width="2.0" stroke-dasharray="11.5 6.8"/>
<line x1="1150.0" y1="851.0" x2="1150.0" y2="1004.0" stroke="#d0213f" stroke-width="2.2" stroke-dasharray="11.5 6.8"/>
<path d="M869.5 1003.0 C875.6 968.7 881.4 936.2 887.9 900.0 C895.1 859.6 904.1 809.9 910.9 772.0 C916.4 741.6 921.0 715.0 925.7 690.0 C929.6 669.0 933.2 651.3 937.0 632.0" fill="none" stroke="#000" stroke-width="3.3" stroke-linecap="round" stroke-linejoin="round"/>
<path d="M909.8 847.0 C908.5 843.3 906.6 840.3 905.9 835.9 C905.0 829.7 905.9 820.5 906.7 812.9 C907.5 805.2 909.2 797.6 910.5 790.0" fill="none" stroke="#f06a22" stroke-width="3.3" stroke-linecap="round" stroke-linejoin="round"/>
<path d="M910.5 790.0 C911.5 783.3 912.1 778.4 913.4 770.0 C915.7 755.3 921.1 724.6 923.8 710.0 C925.3 701.5 926.0 698.5 927.6 690.0 C930.4 675.4 935.4 650.0 939.3 630.0" fill="none" stroke="#d0213f" stroke-width="3.6" stroke-linecap="round" stroke-linejoin="round"/>
<path d="M915.9 845.1 C921.3 840.5 926.8 837.0 932.0 831.3 C938.4 824.4 944.3 814.4 950.5 806.0" fill="none" stroke="#d0213f" stroke-width="3.6" stroke-linecap="round" stroke-linejoin="round"/>
<path d="M915.7 851.5 C920.3 850.1 925.0 849.0 929.5 847.2 C934.2 845.3 938.3 841.6 943.2 840.3 C948.1 839.0 954.1 839.9 958.9 839.3 C963.1 838.8 967.1 838.3 970.7 837.3 C973.9 836.4 976.6 835.0 979.6 833.8" fill="none" stroke="#f06a22" stroke-width="3.3" stroke-linecap="round" stroke-linejoin="round"/>
<path d="M931.4 834.4 C933.4 837.3 934.7 840.5 937.3 843.2 C940.4 846.4 944.9 849.4 949.1 852.1 C953.4 854.9 958.5 857.0 962.9 859.5 C967.0 861.9 970.6 865.2 974.7 866.8 C978.5 868.3 982.2 869.3 986.4 869.2 C991.3 869.0 997.1 866.8 1002.2 864.8 C1007.3 862.8 1011.6 860.0 1016.9 857.0 C1023.2 853.4 1030.0 849.0 1037.5 844.2 C1046.7 838.4 1057.8 831.1 1068.0 824.6" fill="none" stroke="#2e5aac" stroke-width="3.3" stroke-linecap="round" stroke-linejoin="round"/>
<path d="M1012.0 851.1 C1013.6 853.1 1015.0 854.5 1016.9 857.0 C1019.9 860.9 1023.1 868.9 1027.7 872.7 C1032.0 876.3 1038.2 878.3 1043.4 879.6 C1048.0 880.8 1052.3 881.1 1057.2 880.6 C1063.2 879.9 1069.7 877.2 1076.8 874.7 C1085.7 871.6 1096.5 867.1 1106.3 862.9 C1116.2 858.6 1127.8 852.7 1135.8 849.1 C1141.2 846.7 1143.7 845.7 1149.5 843.2 C1159.6 838.8 1177.0 830.8 1190.8 824.6" fill="none" stroke="#8c58bd" stroke-width="3.3" stroke-linecap="round" stroke-linejoin="round"/>
<path d="M1130.8 824.6 C1137.2 830.9 1144.5 837.9 1150.0 843.4 C1154.3 847.7 1156.9 851.3 1161.3 855.0 C1166.4 859.2 1172.6 863.9 1179.0 866.8 C1185.5 869.7 1192.6 871.3 1200.0 872.5 C1208.0 873.8 1216.0 873.9 1225.5 874.1 C1237.5 874.4 1252.8 874.2 1266.4 873.3 C1280.1 872.4 1293.1 870.4 1307.3 868.4 C1323.0 866.2 1340.7 862.4 1356.5 860.2 C1370.9 858.2 1384.3 857.1 1398.2 855.6" fill="none" stroke="#6a7d1f" stroke-width="3.3" stroke-linecap="round" stroke-linejoin="round"/>
<line x1="951.6" y1="799.4" x2="975.0" y2="745.6" stroke="#111" stroke-width="1.3" />
<line x1="970.3" y1="832.4" x2="997.8" y2="774.3" stroke="#111" stroke-width="1.3" />
<line x1="1030.0" y1="843.7" x2="1058.8" y2="795.8" stroke="#111" stroke-width="1.3" />
<line x1="1073.8" y1="872.1" x2="1106.6" y2="814.3" stroke="#111" stroke-width="1.3" />
<line x1="1239.4" y1="870.9" x2="1252.5" y2="848.0" stroke="#111" stroke-width="1.3" />
<circle cx="939.5" cy="628.2" r="5.6" fill="#000"/>
<rect x="904.7" y="842.2" width="10.6" height="10.6" fill="#000"/>
<polygon points="938.0,837.5 932.2,847.9 943.8,847.9" fill="#000"/>
<polygon points="1016.9,850.3 1023.9,857.3 1016.9,864.3 1009.9,857.3" fill="#000"/>
<polygon points="1150.0,836.2 1156.8,841.2 1154.2,849.2 1145.8,849.2 1143.2,841.2" fill="#000"/>
<text class="ann" x="926.2" y="736.5" font-size="19.5" fill="#444444" textLength="164.0" lengthAdjust="spacingAndGlyphs">1st bif. path (<tspan font-style="italic">N</tspan> = 8)</text>
<text class="ann" x="974.7" y="765.5" font-size="19.5" fill="#444444" textLength="170.8" lengthAdjust="spacingAndGlyphs">2nd bif. path (<tspan font-style="italic">N</tspan> = 7)</text>
<text class="ann" x="1001.1" y="787.0" font-size="19.5" fill="#444444" textLength="168.9" lengthAdjust="spacingAndGlyphs">3rd bif. path (<tspan font-style="italic">N</tspan> = 6)</text>
<text class="ann" x="1081.5" y="809.0" font-size="19.5" fill="#444444" textLength="168.9" lengthAdjust="spacingAndGlyphs">4th bif. path (<tspan font-style="italic">N</tspan> = 5)</text>
<text class="ann" x="1193.7" y="839.5" font-size="19.5" fill="#444444" textLength="168.9" lengthAdjust="spacingAndGlyphs">5th bif. path (<tspan font-style="italic">N</tspan> = 4)</text>
<text x="899.0" y="767.0" font-size="20.5" font-style="italic" fill="#444444" textLength="110.0" lengthAdjust="spacingAndGlyphs" class="prim" transform="rotate(-76.0 899.0 767.0)">Primary path</text>
<text class="sig" x="925.4" y="613.4" font-size="29.5" fill="#2a2a2a" textLength="20.5" lengthAdjust="spacingAndGlyphs">Σ</text>
<text class="sup" x="947.0" y="598.0" font-size="19" fill="#333" textLength="17.8" lengthAdjust="spacingAndGlyphs">up</text>
<text class="sub" x="947.0" y="618.5" font-size="19" fill="#333" textLength="14.0" lengthAdjust="spacingAndGlyphs">cr</text>
<text class="sig" x="1030.5" y="919.0" font-size="29.5" fill="#2a2a2a" textLength="20.5" lengthAdjust="spacingAndGlyphs">Σ</text>
<text class="sup" x="1052.1" y="901.7" font-size="19" fill="#333" textLength="39.3" lengthAdjust="spacingAndGlyphs">down</text>
<text class="sub" x="1052.1" y="923.5" font-size="19" fill="#333" textLength="14.0" lengthAdjust="spacingAndGlyphs">cr</text>
<circle cx="37.4" cy="1139.7" r="7" fill="#111"/>
<text x="51.5" y="1147.5" font-size="28" fill="#111" textLength="261" lengthAdjust="spacingAndGlyphs">1st bifurcation point</text>
<rect x="319" y="1133.6" width="14" height="13.2" fill="#111"/>
<text x="340.9" y="1147.5" font-size="28" fill="#111" textLength="270" lengthAdjust="spacingAndGlyphs">2nd bifurcation point</text>
<polygon points="626.8,1133 618.4,1147.2 635.2,1147.2" fill="#111"/>
<text x="646.8" y="1147.5" font-size="28" fill="#111" textLength="265" lengthAdjust="spacingAndGlyphs">3rd bifurcation point</text>
<polygon points="928.3,1130.9 937.7,1140.1 928.3,1149.3 918.9,1140.1" fill="#111"/>
<text x="942" y="1147.5" font-size="28" fill="#111" textLength="266" lengthAdjust="spacingAndGlyphs">4th bifurcation point</text>
<polygon points="1219.6,1131.5 1228.2,1137.7 1224.9,1147.8 1214.3,1147.8 1211.0,1137.7" fill="#111"/>
<text x="1233.2" y="1147.5" font-size="28" fill="#111" textLength="266" lengthAdjust="spacingAndGlyphs">5th bifurcation point</text>
</svg></body></html>
